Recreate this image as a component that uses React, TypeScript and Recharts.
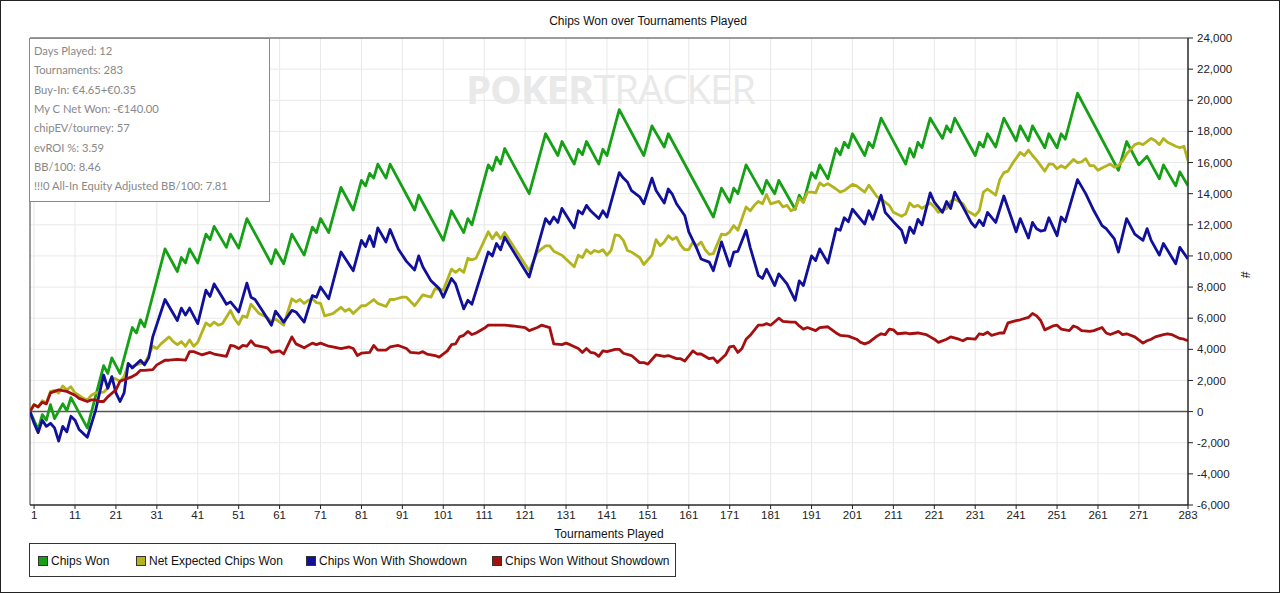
import React from 'react';
import {
  LineChart,
  Line,
  XAxis,
  YAxis,
  CartesianGrid,
  ReferenceLine,
  ReferenceArea,
} from 'recharts';

// [tournament, chips] vertices
const chipsWon: [number, number][] = [
  [0, 0], [2, -1150], [3, -200], [4, -550], [5, 450], [6, -450], [8, 500], [9, 50], [10, 900],
  [14, -1050], [18, 2950], [19, 2450], [20, 3450], [22, 2450], [25, 5400], [26, 5050], [27, 5900],
  [28, 5450], [33, 10450], [36, 9000], [37, 9900], [38, 9550], [39, 10450], [41, 9550], [43, 11400],
  [44, 11050], [45, 11900], [48, 10550], [49, 11400], [51, 10500], [53, 12400], [59, 9500],
  [60, 10400], [62, 9500], [64, 11400], [67, 10050], [69, 11850], [70, 11500], [71, 12400],
  [73, 11500], [76, 14400], [79, 12950], [81, 14850], [82, 14500], [83, 15300], [84, 15000],
  [85, 15900], [87, 15000], [88, 15900], [94, 12950], [95, 13900], [101, 11000], [103, 12900],
  [106, 11500], [107, 12400], [108, 12000], [112, 15850], [113, 15500], [114, 16350], [115, 15900],
  [116, 16900], [122, 14000], [126, 17850], [129, 16450], [130, 17350], [133, 15900], [134, 16850],
  [135, 16500], [136, 17350], [139, 15900], [140, 16850], [141, 16450], [144, 19400], [150, 16450],
  [152, 18350], [155, 17000], [156, 17850], [167, 12500], [169, 14350], [171, 13450], [172, 14350],
  [173, 14000], [175, 15850], [179, 14000], [180, 14850], [182, 14000], [183, 14850], [187, 13000],
  [188, 13900], [189, 13450], [191, 15350], [192, 15000], [193, 15850], [195, 14950], [197, 16900],
  [198, 16500], [199, 17300], [200, 16950], [201, 17850], [204, 16450], [205, 17300], [206, 16950],
  [208, 18850], [214, 15900], [215, 16900], [216, 16350], [217, 17300], [218, 16950], [220, 18850],
  [223, 17550], [224, 18350], [225, 17950], [226, 18850], [231, 16450], [232, 17300], [233, 17000],
  [234, 17850], [236, 17000], [238, 18850], [241, 17400], [242, 18350], [244, 17400], [245, 18350],
  [248, 16950], [249, 17850], [251, 16950], [252, 17850], [253, 17500], [256, 20450], [266, 15500],
  [268, 17350], [271, 15850], [273, 16400], [276, 14950], [277, 15850], [280, 14500], [281, 15400],
  [283, 14500],
];

const netExpected: [number, number][] = [
  [0, 0], [1, 450], [2, 300], [3, 700], [4, 550], [5, 1300], [6, 1350], [7, 1200], [8, 1650],
  [9, 1400], [10, 1600], [11, 1200], [12, 1050], [13, 850], [14, 750], [15, 1050], [16, 1200],
  [18, 1250], [19, 1500], [20, 2150], [21, 2100], [22, 1950], [23, 2250], [24, 3050], [25, 2900],
  [27, 3100], [28, 3100], [29, 3600], [30, 4200], [31, 4050], [32, 4350], [34, 4800], [35, 4500],
  [36, 4300], [37, 4500], [38, 4200], [39, 4600], [40, 4200], [41, 4450], [43, 5700], [44, 5500],
  [45, 5750], [46, 5550], [47, 5650], [49, 6500], [50, 5950], [51, 5600], [52, 6150], [53, 6050],
  [54, 6900], [55, 6600], [56, 6300], [58, 6050], [59, 5750], [60, 5950], [62, 5550], [64, 7250],
  [65, 7050], [66, 7200], [67, 6950], [68, 7150], [69, 7250], [70, 7000], [71, 6950], [72, 6150],
  [74, 6300], [76, 6700], [77, 6450], [78, 6600], [79, 6300], [81, 6800], [82, 6800], [84, 7200],
  [85, 6950], [87, 6750], [88, 7200], [89, 7200], [91, 7350], [92, 7350], [94, 6800], [96, 7500],
  [98, 7350], [99, 7900], [101, 7800], [103, 9150], [104, 8950], [105, 9150], [106, 8950],
  [107, 9850], [108, 9750], [109, 9850], [112, 11550], [113, 11100], [114, 11500], [115, 11100],
  [116, 11500], [122, 9050], [124, 10250], [126, 10650], [127, 10650], [128, 10300], [130, 10050],
  [133, 9300], [134, 10050], [135, 9900], [136, 10400], [137, 10150], [138, 10350], [139, 10250],
  [140, 10400], [141, 10050], [142, 10350], [143, 11350], [144, 11300], [145, 11000], [146, 10350],
  [147, 10250], [149, 9900], [150, 9450], [152, 10050], [153, 11050], [154, 10650], [155, 10900],
  [156, 11300], [157, 11050], [158, 11200], [159, 10700], [160, 10400], [161, 10400], [162, 10900],
  [163, 10650], [164, 10900], [165, 10400], [166, 10100], [167, 10150], [169, 11400], [170, 11350],
  [171, 11550], [172, 11950], [173, 11650], [175, 13150], [176, 12900], [177, 13250], [178, 13500],
  [179, 13350], [180, 13950], [181, 13350], [183, 13500], [184, 13150], [185, 13250], [186, 12900],
  [187, 13050], [188, 13700], [189, 13450], [190, 14100], [191, 14100], [192, 14050], [193, 14700],
  [194, 14500], [195, 14650], [197, 14300], [198, 14100], [199, 14200], [201, 14600], [202, 14500],
  [204, 14100], [205, 14550], [207, 13800], [208, 13650], [210, 13250], [211, 12800], [213, 12550],
  [214, 12700], [215, 13400], [216, 13150], [217, 13250], [218, 13050], [220, 13400], [221, 13150],
  [222, 12800], [224, 13050], [225, 13500], [226, 13650], [228, 13350], [229, 12900], [231, 12600],
  [232, 12900], [233, 14100], [234, 14300], [236, 13900], [237, 14900], [238, 15350], [239, 15450],
  [240, 15900], [242, 16650], [243, 16450], [244, 16800], [245, 16450], [246, 16150], [248, 15450],
  [249, 15900], [250, 15900], [251, 15600], [252, 15800], [253, 15650], [255, 16200], [256, 16000],
  [257, 16050], [258, 16250], [259, 15800], [260, 15800], [261, 15500], [262, 15650], [264, 15900],
  [265, 15700], [266, 15800], [267, 16100], [268, 16550], [270, 17150], [271, 17250], [272, 17150],
  [274, 17550], [275, 17400], [276, 17150], [277, 17550], [278, 17300], [280, 17050], [281, 16950],
  [282, 17050], [283, 16100],
];

const withShowdown: [number, number][] = [
  [0, 0], [1, -750], [2, -1350], [3, -550], [4, -950], [5, -750], [6, -1050], [7, -1900], [8, -950],
  [9, -1300], [10, -300], [11, -550], [12, -1150], [14, -1650], [16, 50], [18, 2350], [19, 1500],
  [20, 2250], [21, 1200], [22, 650], [23, 1200], [24, 3100], [25, 2800], [27, 3300], [28, 3000],
  [29, 3450], [30, 4800], [33, 7200], [36, 5850], [37, 6650], [38, 6200], [39, 6650], [41, 5650],
  [43, 7800], [44, 7400], [45, 8200], [47, 7350], [48, 6900], [49, 7050], [51, 6400], [53, 8250],
  [54, 7350], [55, 7200], [57, 6400], [59, 5550], [60, 6450], [62, 5750], [64, 6500], [65, 6400],
  [67, 5750], [69, 7450], [70, 7350], [71, 8000], [73, 7250], [76, 10250], [79, 9050], [81, 11000],
  [82, 10600], [83, 11300], [84, 10600], [85, 11800], [87, 10900], [88, 11700], [90, 10450],
  [92, 9650], [94, 9100], [95, 10000], [96, 9300], [98, 8400], [100, 7900], [101, 7350], [103, 8550],
  [104, 8200], [106, 6600], [107, 7150], [108, 6900], [112, 10250], [113, 10000], [114, 10800],
  [115, 10400], [116, 11200], [122, 8650], [126, 12400], [127, 12050], [128, 12500], [129, 12150],
  [130, 13050], [133, 11800], [134, 12900], [135, 12700], [136, 13250], [137, 12900], [139, 12400],
  [140, 12900], [141, 12500], [144, 15350], [145, 15000], [146, 14750], [147, 14200], [149, 13800],
  [150, 13350], [152, 15000], [153, 14200], [155, 13400], [156, 14300], [157, 13950], [158, 13350],
  [160, 12600], [161, 11550], [163, 10450], [164, 9800], [166, 9600], [167, 9050], [169, 10900],
  [171, 9350], [172, 10250], [173, 10300], [175, 11650], [176, 10550], [178, 8750], [179, 8550],
  [180, 9150], [182, 8100], [183, 8850], [185, 8200], [187, 7150], [188, 8400], [189, 8100],
  [191, 10000], [192, 9700], [193, 10450], [195, 9550], [197, 11750], [198, 11650], [199, 12450],
  [200, 12200], [201, 13000], [204, 12050], [205, 12900], [206, 12350], [208, 13900], [209, 12800],
  [211, 12200], [213, 11650], [214, 10850], [215, 11850], [216, 11450], [217, 12350], [218, 12000],
  [220, 14050], [221, 13450], [223, 12800], [224, 13500], [225, 13050], [226, 14100], [228, 13150],
  [230, 12150], [231, 11850], [232, 12300], [233, 11950], [234, 12800], [236, 12150], [238, 13850],
  [241, 11550], [242, 12400], [244, 11150], [245, 12150], [246, 11750], [247, 11600], [248, 11650],
  [249, 12450], [251, 11300], [252, 12500], [253, 12200], [256, 14900], [258, 14000], [260, 12900],
  [262, 11950], [263, 11750], [265, 11100], [266, 10250], [268, 12400], [270, 11400], [272, 11000],
  [273, 11750], [274, 11000], [276, 10050], [277, 10800], [280, 9500], [281, 10550], [283, 9800],
];

const withoutShowdown: [number, number][] = [
  [0, 0], [1, 450], [2, 300], [3, 600], [4, 500], [5, 1200], [6, 1300], [7, 1400], [9, 1300],
  [11, 1050], [12, 850], [14, 650], [15, 750], [16, 750], [17, 650], [18, 650], [19, 950], [21, 1400],
  [22, 1950], [23, 2050], [25, 2250], [26, 2400], [27, 2650], [28, 2650], [30, 2700], [31, 3000],
  [33, 3300], [34, 3300], [36, 3350], [38, 3300], [39, 3850], [40, 3850], [41, 3750], [42, 3650],
  [44, 3800], [45, 3700], [47, 3600], [48, 3550], [49, 4250], [50, 4200], [51, 4050], [52, 4250],
  [53, 4200], [54, 4550], [55, 4250], [56, 4200], [58, 4100], [59, 3800], [61, 3900], [62, 3700],
  [64, 4800], [65, 4350], [67, 4100], [69, 4400], [70, 4300], [71, 4400], [73, 4200], [74, 4150],
  [76, 4050], [78, 4150], [79, 4050], [80, 3600], [81, 3750], [83, 3800], [84, 4250], [85, 3950],
  [87, 3950], [88, 4150], [90, 4250], [92, 4050], [93, 3800], [95, 3750], [96, 3850], [97, 3700],
  [99, 3600], [100, 3500], [102, 3900], [103, 4300], [104, 4350], [105, 4800], [106, 4900],
  [107, 5150], [108, 4950], [109, 5050], [111, 5350], [112, 5550], [114, 5550], [116, 5550],
  [118, 5500], [121, 5400], [122, 5200], [124, 5400], [125, 5550], [127, 5400], [128, 4350],
  [130, 4300], [131, 4400], [132, 4300], [134, 4050], [135, 3800], [136, 4050], [137, 3800],
  [138, 3750], [139, 3550], [140, 3900], [141, 3850], [143, 4000], [144, 4000], [145, 3750],
  [147, 3600], [149, 3150], [150, 3150], [151, 3050], [153, 3650], [155, 3550], [156, 3600],
  [158, 3400], [159, 3400], [160, 3250], [162, 3900], [163, 3700], [164, 3700], [166, 3400],
  [167, 3450], [168, 3150], [170, 3650], [171, 4150], [172, 4200], [173, 3800], [174, 4050],
  [175, 4650], [176, 4900], [178, 5550], [179, 5550], [180, 5650], [181, 5550], [183, 6000],
  [184, 5800], [186, 5750], [187, 5750], [188, 5500], [189, 5300], [190, 5400], [192, 5200],
  [193, 5400], [195, 5450], [197, 5050], [198, 4900], [200, 4850], [202, 4650], [203, 4450],
  [204, 4350], [205, 4450], [207, 4850], [208, 5000], [209, 4950], [210, 5300], [211, 5250],
  [212, 5000], [214, 5050], [215, 5000], [217, 5050], [219, 4950], [220, 4800], [221, 4650],
  [222, 4450], [224, 4650], [225, 4800], [227, 4650], [228, 4550], [229, 4700], [231, 4650],
  [232, 5000], [233, 4950], [234, 5100], [235, 4900], [237, 5050], [238, 5050], [239, 5700],
  [241, 5850], [242, 5900], [244, 6050], [245, 6300], [246, 6150], [247, 5850], [248, 5250],
  [250, 5500], [251, 5550], [252, 5300], [254, 5200], [255, 5500], [256, 5400], [257, 5200],
  [259, 5150], [260, 5200], [262, 5400], [263, 5050], [264, 4950], [266, 5150], [267, 4950],
  [268, 5000], [270, 4800], [272, 4400], [273, 4550], [274, 4650], [275, 4800], [277, 4950],
  [278, 5000], [279, 4950], [281, 4700], [282, 4650], [283, 4550],
];

const xTicks = [1, 11, 21, 31, 41, 51, 61, 71, 81, 91, 101, 111, 121, 131, 141, 151, 161, 171, 181, 191, 201, 211, 221, 231, 241, 251, 261, 271, 283];
const yTicks = [-6000, -4000, -2000, 0, 2000, 4000, 6000, 8000, 10000, 12000, 14000, 16000, 18000, 20000, 22000, 24000];

const seriesNames = ['Chips Won', 'Net Expected Chips Won', 'Chips Won With Showdown', 'Chips Won Without Showdown'];
const seriesColors = ['#16a016', '#b3b31e', '#10109a', '#a50f0f'];

const infoLines = [
  'Days Played: 12',
  'Tournaments: 283',
  'Buy-In: €4.65+€0.35',
  'My C Net Won: -€140.00',
  'chipEV/tourney: 57',
  'evROI %: 3.59',
  'BB/100: 8.46',
  '!!!0 All-In Equity Adjusted BB/100: 7.81',
];

const toPoints = (pairs: [number, number][]) => pairs.map(([t, v]) => ({ t, v }));

const allSeries = [chipsWon, netExpected, withShowdown, withoutShowdown].map(toPoints);

const axisFont = { fontFamily: 'Liberation Sans, Arial, sans-serif', fontSize: 11.5, fill: '#222' };

export default function App() {
  return (
    <div
      style={{
        position: 'absolute',
        left: 0,
        top: 0,
        width: 1280,
        height: 593,
        border: '1px solid #222',
        boxSizing: 'border-box',
        background: '#fff',
        overflow: 'hidden',
        fontFamily: 'Liberation Sans, Arial, sans-serif',
      }}
    >
      <div
        style={{
          position: 'absolute',
          left: 465,
          top: 60,
          fontFamily: 'Open Sans, sans-serif',
          fontSize: 40,
          color: '#e9e9e9',
          letterSpacing: -1,
          whiteSpace: 'nowrap',
        }}
      >
        <span style={{ fontWeight: 700 }}>POKER</span>
        <span style={{ fontWeight: 400 }}>TRACKER</span>
      </div>

      <div
        style={{
          position: 'absolute',
          left: 0,
          top: 13,
          width: 1294,
          textAlign: 'center',
          fontSize: 12,
          color: '#111',
        }}
      >
        Chips Won over Tournaments Played
      </div>

      <div style={{ position: 'absolute', left: -1, top: -1 }}>
        <LineChart width={1280} height={593} margin={{ top: 38, right: 40, bottom: 52, left: 30 }}>
          <CartesianGrid stroke="#e8e8e8" strokeWidth={1} />
          <XAxis
            dataKey="t"
            type="number"
            domain={[0, 283]}
            ticks={xTicks}
            interval={0}
            allowDataOverflow
            height={36}
            tick={axisFont}
            tickSize={4}
            tickMargin={2}
            axisLine={{ stroke: '#222' }}
            tickLine={{ stroke: '#222' }}
            label={{ value: 'Tournaments Played', position: 'insideBottom', offset: 3, style: { fontSize: 12, fill: '#111' } }}
          />
          <YAxis
            orientation="right"
            type="number"
            domain={[-6000, 24000]}
            ticks={yTicks}
            interval={0}
            width={52}
            tick={{ ...axisFont, textAnchor: 'start' }}
            tickSize={5}
            tickMargin={4}
            axisLine={{ stroke: '#222' }}
            tickLine={{ stroke: '#222' }}
            tickFormatter={(v: number) => v.toLocaleString('en-US')}
            label={{ value: '#', angle: 90, position: 'right', offset: 5, style: { fontSize: 12, fill: '#111' } }}
          />
          <ReferenceArea x1={0} x2={283} y1={-6000} y2={24000} fill="none" stroke="#444" strokeWidth={1} />
          <ReferenceLine y={0} stroke="#555" strokeWidth={1.5} />
          {allSeries.map((pts, i) => (
            <Line
              key={seriesNames[i]}
              data={pts}
              dataKey="v"
              name={seriesNames[i]}
              type="linear"
              stroke={seriesColors[i]}
              strokeWidth={2.8}
              strokeLinejoin="round"
              dot={false}
              activeDot={false}
              isAnimationActive={false}
            />
          ))}
        </LineChart>
      </div>

      <div
        style={{
          position: 'absolute',
          left: 28,
          top: 37,
          width: 241,
          height: 164,
          border: '1px solid #8a8a8a',
          boxSizing: 'border-box',
          background: '#fff',
          fontFamily: 'Lato, sans-serif',
          fontSize: 11.2,
          color: '#888',
        }}
      >
        {infoLines.map((s, i) => (
          <div key={s} style={{ position: 'absolute', left: 4, top: 3 + i * 19.35, lineHeight: '18px', whiteSpace: 'nowrap' }}>
            {s}
          </div>
        ))}
      </div>

      <div
        style={{
          position: 'absolute',
          left: 28,
          top: 542,
          width: 647,
          height: 34,
          border: '1px solid #333',
          boxSizing: 'border-box',
          fontSize: 12,
          color: '#111',
        }}
      >
        {seriesNames.map((n, i) => {
          const lefts = [8, 106, 276, 462];
          return (
            <div key={n} style={{ position: 'absolute', left: lefts[i], top: 10, display: 'flex', alignItems: 'center', whiteSpace: 'nowrap' }}>
              <span
                style={{
                  display: 'inline-block',
                  width: 8,
                  height: 8,
                  border: '1px solid #333',
                  background: seriesColors[i],
                  marginRight: 3,
                }}
              />
              <span style={{ lineHeight: '14px' }}>{n}</span>
            </div>
          );
        })}
      </div>
    </div>
  );
}
